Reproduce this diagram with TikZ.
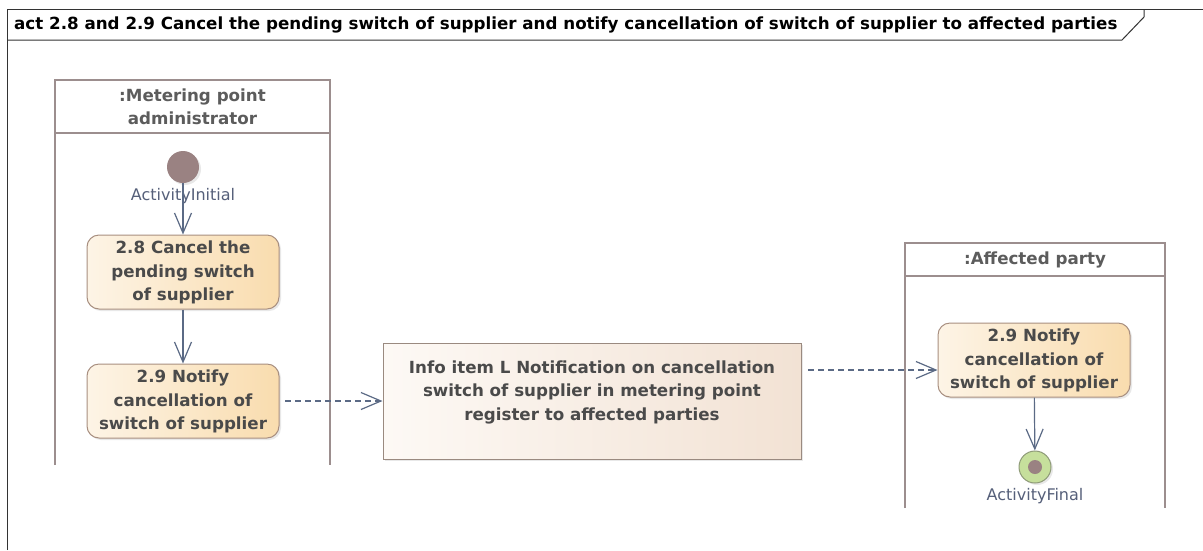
\documentclass[tikz,border=0pt]{standalone}
\usepackage{fontspec}
\setmainfont{DejaVu Sans}
\usetikzlibrary{arrows.meta,shadows}
\definecolor{arrowc}{HTML}{5B6A85}
\definecolor{laneb}{HTML}{9C8E8E}
\definecolor{actb}{HTML}{A88F80}
\definecolor{actL}{HTML}{FDF4E6}
\definecolor{actR}{HTML}{F9DCAE}
\definecolor{infoL}{HTML}{FDF9F5}
\definecolor{infoR}{HTML}{F2E2D4}
\definecolor{infob}{HTML}{9A8A80}
\definecolor{initc}{HTML}{9A8282}
\definecolor{finalg}{HTML}{C6DF9C}
\definecolor{finalb}{HTML}{8E9A78}
\definecolor{txt}{HTML}{4A4A4A}
\definecolor{lbl}{HTML}{56607A}
\begin{document}
\begin{tikzpicture}[x=1pt,y=-1pt,
  actfont/.style={font=\fontsize{16.7}{23.5}\selectfont\bfseries},
  act/.style={draw=actb, line width=1pt, rounded corners=12pt, left color=actL, right color=actR,
    minimum width=192pt, minimum height=74pt, align=center, actfont, text=txt, inner sep=0pt,
    drop shadow={opacity=0.18, shadow xshift=2pt, shadow yshift=-2pt}},
  info/.style={draw=infob, line width=1pt, left color=infoL, right color=infoR,
    minimum width=418pt, minimum height=116pt, align=center, actfont, text=txt, inner sep=0pt,
    drop shadow={opacity=0.18, shadow xshift=2pt, shadow yshift=-2pt}},
  lane/.style={draw=laneb, line width=2pt},
  lanehead/.style={actfont, text=txt!90, align=center},
  lbl/.style={font=\fontsize{16}{18}\selectfont, text=lbl},
  flow/.style={draw=arrowc, line width=1.2pt, -{Straight Barb[length=20pt,width=17pt,line width=1.2pt]}},
  obj/.style={flow, dash pattern=on 6pt off 4pt},
]
\useasboundingbox (0,0) rectangle (1203,550);
\fill[white] (0,0) rectangle (1203,550);
% frame
\draw[black!80, line width=1pt] (7,550) -- (7,9) -- (1203,9);
\draw[black!80, line width=1pt] (7,40) -- (1122,40) -- (1144,17) -- (1144,9);
\node[anchor=west, font=\fontsize{16.7}{18}\selectfont\bfseries, text=black, inner sep=0pt] (title) at (14,25)
  {act 2.8 and 2.9 Cancel the pending switch of supplier and notify cancellation of switch of supplier to affected parties};
% lane 1
\draw[lane] (55,465) -- (55,80) -- (330,80) -- (330,465);
\draw[lane] (55,133) -- (330,133);
\node[lanehead] (h1) at (192.5,107) {:Metering point\\administrator};
% lane 2
\draw[lane] (905,508) -- (905,243) -- (1165,243) -- (1165,508);
\draw[lane] (905,276) -- (1165,276);
\node[lanehead] (h2) at (1035,259.5) {:Affected party};
% nodes
\node[circle, fill=initc, minimum size=32pt, inner sep=0pt,
  drop shadow={opacity=0.18, shadow xshift=2pt, shadow yshift=-2pt}] (init) at (183,167) {};
\node[lbl] (initl) at (183,196) {ActivityInitial};
\node[act] (a28) at (183,272) {\rule{0pt}{7pt}\\[-16.5pt]2.8 Cancel the\\pending switch\\of supplier};
\node[act] (a29) at (183,401) {\rule{0pt}{7pt}\\[-16.5pt]2.9 Notify\\cancellation of\\switch of supplier};
\node[info] (inf) at (592,401) {Info item L Notification on cancellation\\switch of supplier in metering point\\register to affected parties\\[-2pt]\mbox{}};
\node[act] (b29) at (1034,360) {\rule{0pt}{7pt}\\[-16.5pt]2.9 Notify\\cancellation of\\switch of supplier};
\node[circle, draw=finalb, line width=1pt, fill=finalg, minimum size=32pt, inner sep=0pt,
  drop shadow={opacity=0.18, shadow xshift=2pt, shadow yshift=-2pt}] (fin) at (1035,467) {};
\node[circle, fill=initc, minimum size=14pt, inner sep=0pt] (finin) at (fin.center) {};
\node[lbl] (finl) at (1035,496) {ActivityFinal};
\coordinate (o1) at (285,401);
\coordinate (o2) at (808,370);
% flows
\draw[flow] (init) -- (a28);
\draw[flow] (a28) -- (a29);
\draw[obj] (o1) -- (inf.west |- o1);
\draw[obj] (o2) -- (b29.west |- o2);
\draw[flow] (b29) -- (fin);
\end{tikzpicture}
\end{document}
